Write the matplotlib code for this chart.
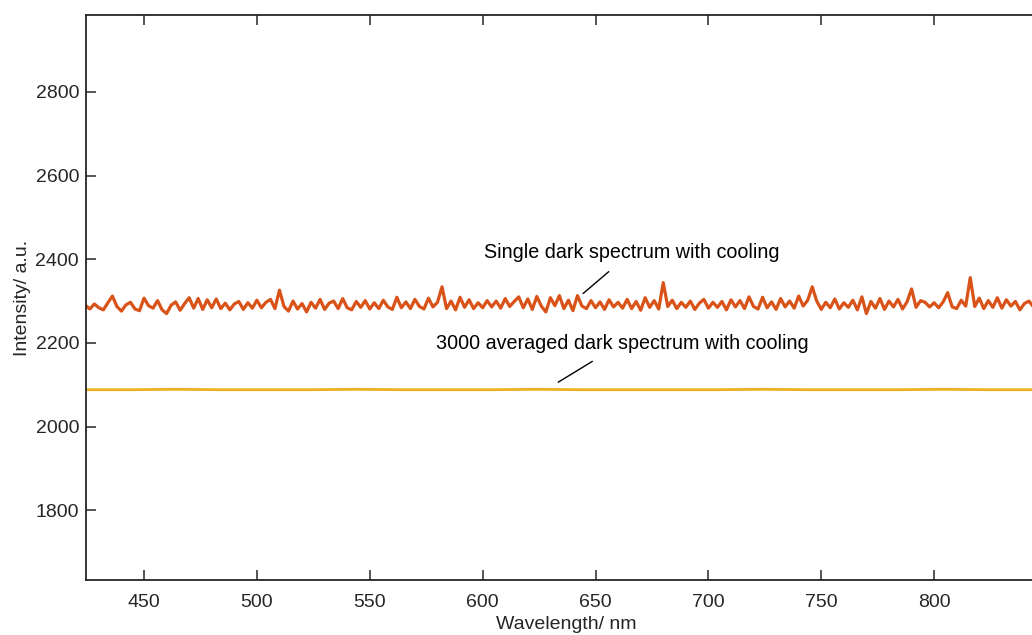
import numpy as np
import matplotlib
matplotlib.use('Agg')
import matplotlib.pyplot as plt

plt.rcParams['font.family'] = ['Liberation Sans', 'DejaVu Sans']

# Single dark spectrum (2 nm sampling, 424-844 nm)
wl_single = np.arange(424, 845, 2)
single = [
    2290, 2281, 2293, 2284, 2279, 2296, 2312, 2287, 2276, 2291,
    2297, 2281, 2277, 2307, 2289, 2283, 2301, 2279, 2270, 2290,
    2298, 2278, 2294, 2308, 2283, 2306, 2280, 2303, 2284, 2305,
    2282, 2295, 2279, 2293, 2299, 2280, 2296, 2283, 2302, 2284,
    2297, 2304, 2282, 2326, 2287, 2276, 2300, 2281, 2294, 2274,
    2297, 2283, 2304, 2280, 2295, 2300, 2282, 2306, 2284, 2279,
    2299, 2285, 2301, 2281, 2296, 2282, 2302, 2286, 2280, 2309,
    2284, 2298, 2282, 2304, 2287, 2281, 2307, 2286, 2297, 2334,
    2282, 2300, 2279, 2309, 2285, 2303, 2282, 2296, 2284, 2301,
    2286, 2300, 2283, 2306, 2287, 2299, 2310, 2284, 2305, 2280,
    2311, 2288, 2274, 2308, 2289, 2313, 2282, 2302, 2277, 2313,
    2288, 2282, 2301, 2284, 2298, 2280, 2303, 2286, 2297, 2283,
    2304, 2282, 2299, 2278, 2308, 2285, 2301, 2281, 2344, 2287,
    2302, 2282, 2297, 2285, 2300, 2280, 2295, 2304, 2283, 2297,
    2285, 2299, 2279, 2303, 2286, 2301, 2282, 2310, 2287, 2281,
    2309, 2284, 2298, 2280, 2306, 2286, 2300, 2283, 2312, 2288,
    2302, 2334, 2300, 2280, 2297, 2284, 2305, 2281, 2296, 2285,
    2302, 2279, 2310, 2270, 2299, 2283, 2306, 2280, 2300, 2286,
    2304, 2281, 2298, 2329, 2285, 2301, 2297, 2286, 2296, 2284,
    2298, 2320, 2286, 2282, 2302, 2288, 2356, 2287, 2307, 2282,
    2301, 2285, 2308, 2283, 2303, 2288, 2299, 2279, 2294, 2300,
    2286,
]

# 3000-averaged dark spectrum (20 nm sampling)
wl_avg = np.arange(424, 845, 20)
averaged = [2088, 2088, 2089, 2088, 2088, 2088, 2089, 2088, 2088, 2088, 2089,
            2088, 2088, 2088, 2088, 2089, 2088, 2088, 2088, 2089, 2088, 2088]

fig = plt.figure(figsize=(10.32, 6.35), dpi=100)
# axes run past the right edge of the picture, as in the reference
ax = fig.add_axes([86 / 1032, 55 / 635, (1047 - 86) / 1032, (620 - 55) / 635])

ax.plot(wl_avg, averaged, color='#EDB120', linewidth=2.0)
ax.plot(wl_single, single, color='#D95319', linewidth=2.3)

ax.set_xlim(424.3, 850)
ax.set_ylim(1633, 2984)
ax.set_xticks([450, 500, 550, 600, 650, 700, 750, 800])
ax.set_yticks([1800, 2000, 2200, 2400, 2600, 2800])

dark = '#262626'
for s in ax.spines.values():
    s.set_color(dark)
    s.set_linewidth(1.3)
ax.tick_params(direction='in', length=7, width=1.1, colors=dark,
               labelsize=14, top=True, right=True)
ax.tick_params(axis='x', pad=10)
ax.tick_params(axis='y', pad=5)

ax.set_xlabel('Wavelength/ nm', fontsize=14, color=dark, labelpad=4)
ax.set_ylabel('Intensity/ a.u.', fontsize=14, color=dark, labelpad=3)

ax.annotate('Single dark spectrum with cooling', xy=(644.5, 2318),
            xytext=(666, 2417), ha='center', va='center', fontsize=14.2,
            color='black',
            arrowprops=dict(arrowstyle='-', color='black', lw=1.0,
                            shrinkA=8, shrinkB=0))
ax.annotate('3000 averaged dark spectrum with cooling', xy=(633.5, 2106),
            xytext=(661.7, 2199), ha='center', va='center', fontsize=14.2,
            color='black',
            arrowprops=dict(arrowstyle='-', color='black', lw=1.0,
                            shrinkA=8, shrinkB=0))

fig.savefig('out.png', dpi=100)
